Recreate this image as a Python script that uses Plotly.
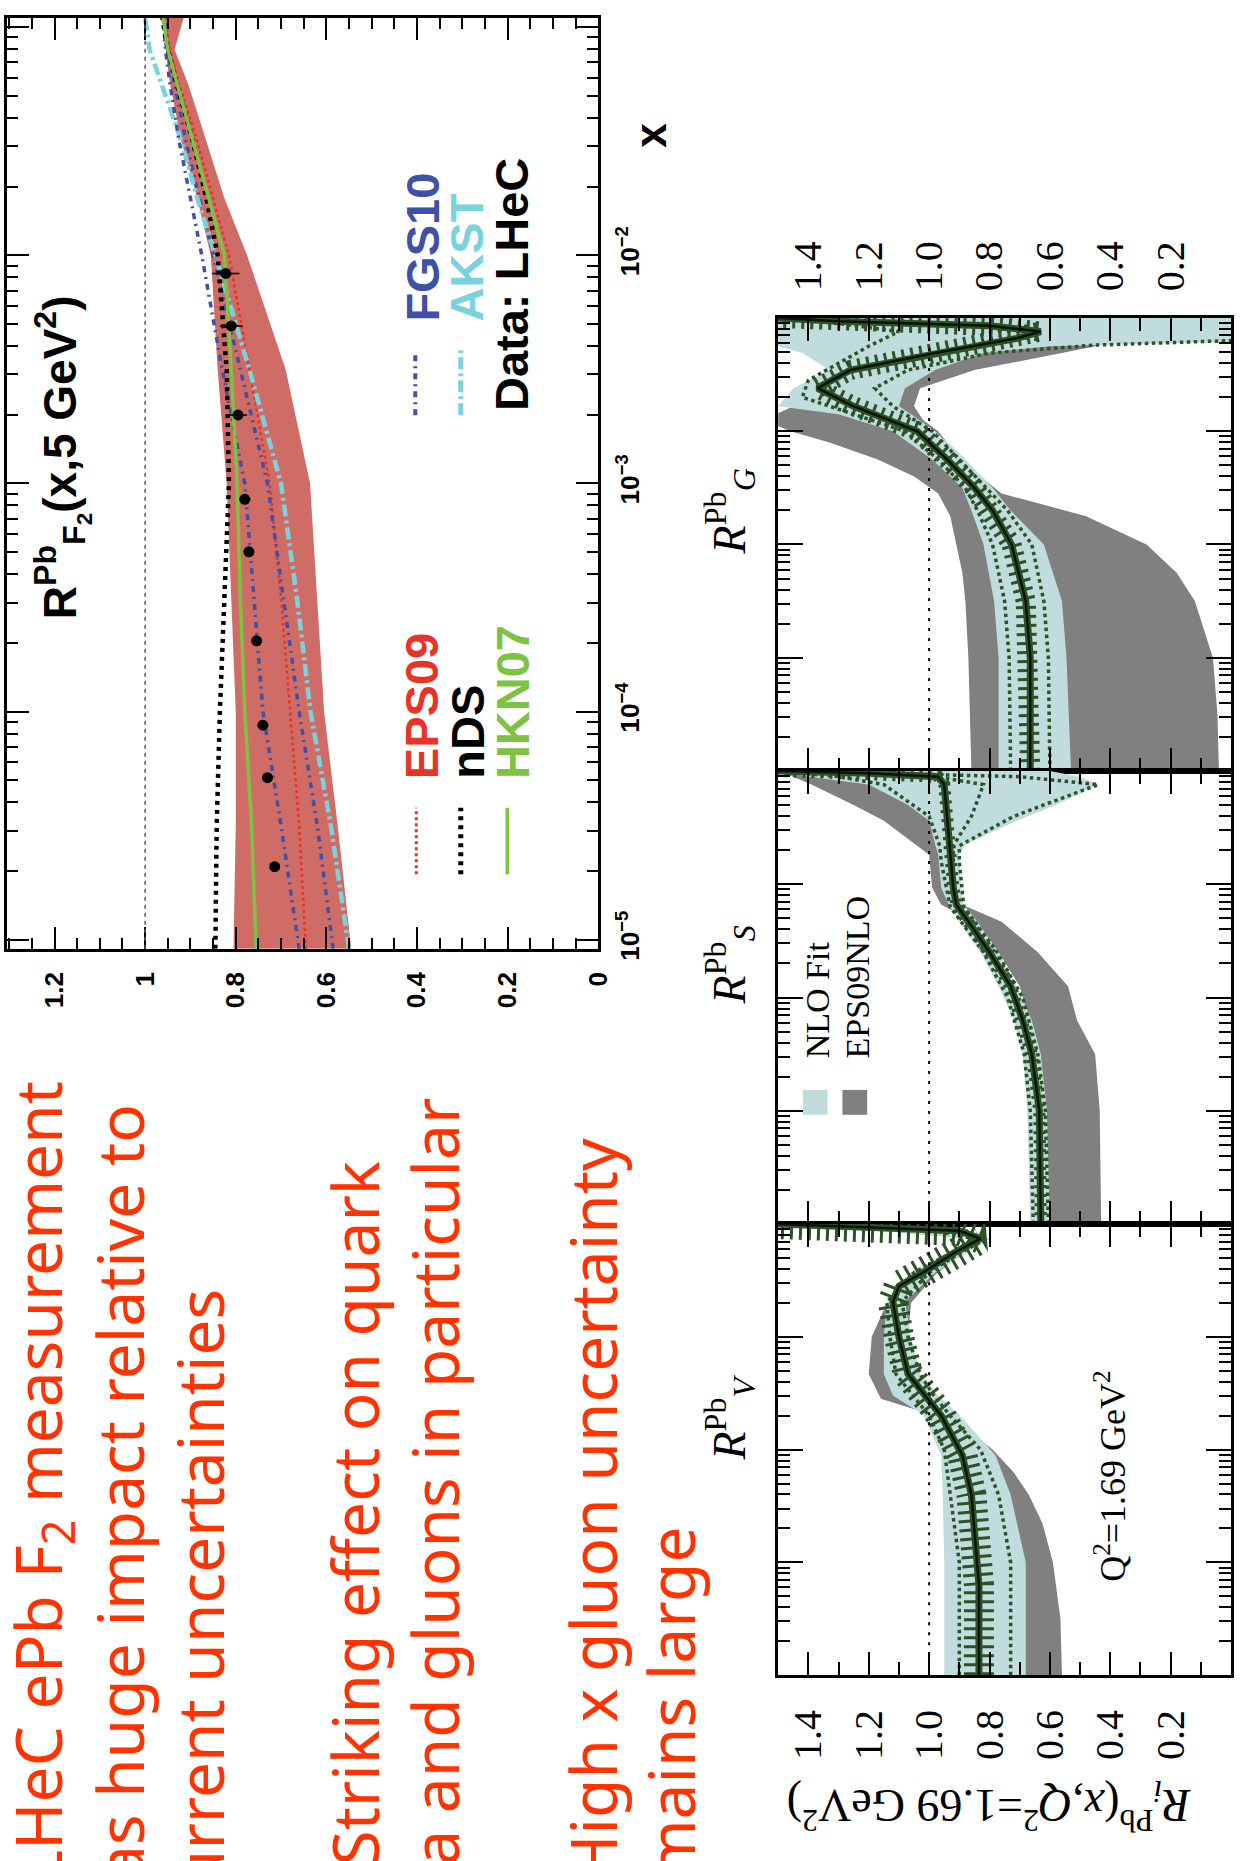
import plotly.graph_objects as go

W, H = 1248, 1861


def px(x):
    return x / W


def py(y):
    return 1 - y / H


# ---------------- top chart: R_F2^Pb(x, 5 GeV^2) ----------------
top_logx = [-5.04, -4.5, -4.0, -3.5, -3.0, -2.5, -2.0, -1.75, -1.5, -1.25, -1.1, -0.96]
eps09_hi = [0.805, 0.80, 0.80, 0.81, 0.82, 0.84, 0.855, 0.885, 0.92, 0.945, 0.955, 0.96]
eps09_lo = [0.545, 0.575, 0.605, 0.62, 0.636, 0.69, 0.775, 0.825, 0.865, 0.905, 0.935, 0.915]
eps09_c = [0.645, 0.66, 0.68, 0.70, 0.725, 0.77, 0.815, 0.85, 0.885, 0.925, 0.945, 0.955]
nds = [0.845, 0.842, 0.835, 0.825, 0.815, 0.82, 0.84, 0.865, 0.895, 0.93, 0.95, 0.962]
hkn07 = [0.755, 0.765, 0.78, 0.79, 0.797, 0.81, 0.825, 0.86, 0.895, 0.93, 0.95, 0.96]
fgs10_a = [0.66, 0.70, 0.74, 0.76, 0.78, 0.83, 0.875, 0.90, 0.925, 0.945, 0.955, 0.96]
fgs10_b = [0.585, 0.62, 0.66, 0.695, 0.73, 0.79, 0.85, 0.88, 0.91, 0.935, 0.95, 0.955]
akst = [0.55, 0.59, 0.635, 0.665, 0.70, 0.77, 0.845, 0.885, 0.92, 0.965, 0.99, 1.0]

data_logx = [-2.08, -2.31, -2.70, -3.07, -3.30, -3.69, -4.06, -4.29, -4.68]
data_r = [0.822, 0.81, 0.795, 0.78, 0.771, 0.754, 0.74, 0.73, 0.714]
data_err = [0.03, 0.025, 0.02, 0.012, 0.01, 0.006, 0.006, 0.005, 0.005]

# ---------------- bottom panels (Q^2 = 1.69 GeV^2) ----------------
# R_G
g_eps_logx = [-4, -3.5, -3, -2.5, -2.25, -2, -1.75, -1.55, -1.4, -1.25, -1.1, -1.0, -0.9, -0.78, -0.62, -0.46, -0.31, -0.25, -0.18, -0.1, 0]
g_eps_hi = [0.86, 0.865, 0.87, 0.88, 0.89, 0.91, 0.93, 0.97, 1.05, 1.17, 1.33, 1.46, 1.55, 1.45, 1.25, 1.1, 1.0, 0.95, 0.9, 0.9, 0.9]
g_eps_lo = [0.04, 0.045, 0.06, 0.12, 0.18, 0.28, 0.48, 0.76, 0.83, 0.88, 0.94, 0.97, 1.02, 1.05, 1.03, 0.85, 0.56, 0.45, 0.35, 0.3, 0.3]
g_nlo_logx = [-4, -3, -2.5, -2, -1.7, -1.5, -1.25, -1.0, -0.85, -0.78, -0.62, -0.46, -0.31, -0.25, -0.21, -0.1, 0]
g_nlo_hi = [0.77, 0.77, 0.785, 0.82, 0.86, 0.89, 0.99, 1.12, 1.3, 1.5, 1.45, 1.33, 1.42, 1.5, 1.6, 1.6, 1.6]
g_nlo_lo = [0.53, 0.545, 0.56, 0.62, 0.73, 0.79, 0.88, 0.98, 1.06, 1.1, 1.08, 0.98, 0.82, 0.6, 0.0, 0.0, 0.0]
g_c_logx = [-4, -3, -2.5, -2, -1.7, -1.5, -1.25, -1.0, -0.78, -0.62, -0.46, -0.31, -0.18, -0.12, -0.07, -0.03, 0]
g_c = [0.665, 0.665, 0.68, 0.727, 0.79, 0.85, 0.94, 1.04, 1.25, 1.37, 1.26, 0.98, 0.71, 0.63, 0.8, 1.3, 1.5]
g_da_logx = [-4, -3, -2.5, -2, -1.7, -1.5, -1.25, -1.0, -0.78, -0.62, -0.46, -0.31, -0.24, -0.2]
g_da = [0.60, 0.605, 0.62, 0.66, 0.74, 0.81, 0.9, 0.99, 1.12, 1.18, 1.07, 0.8, 0.45, 0.0]
g_db_logx = [-4, -3, -2.5, -2, -1.7, -1.5, -1.25, -1.0, -0.85, -0.7, -0.55, -0.4, -0.25, -0.12, -0.05, 0]
g_db = [0.73, 0.735, 0.75, 0.79, 0.84, 0.88, 0.97, 1.08, 1.25, 1.42, 1.4, 1.3, 1.2, 1.1, 1.3, 1.5]

# R_S
s_eps_logx = [-4, -3, -2.5, -2.2, -1.9, -1.6, -1.33, -1.18, -1.03, -0.74, -0.44, -0.3, -0.12, -0.05, 0]
s_eps_hi = [0.62, 0.63, 0.65, 0.67, 0.70, 0.77, 0.85, 0.96, 0.99, 1.0, 1.15, 1.25, 1.39, 1.45, 1.5]
s_eps_lo = [0.43, 0.435, 0.45, 0.51, 0.54, 0.64, 0.76, 0.89, 0.91, 0.92, 0.92, 0.95, 1.0, 1.1, 1.2]
s_nlo_logx = [-4, -3, -2.5, -2.2, -1.9, -1.6, -1.33, -1.18, -1.03, -0.74, -0.65, -0.44, -0.3, -0.12, -0.05, 0]
s_nlo_hi = [0.665, 0.675, 0.69, 0.72, 0.77, 0.83, 0.90, 0.935, 0.96, 0.97, 0.98, 1.0, 1.07, 1.2, 1.4, 1.5]
s_nlo_lo = [0.60, 0.61, 0.63, 0.66, 0.71, 0.77, 0.84, 0.885, 0.895, 0.90, 0.88, 0.71, 0.58, 0.44, 0.5, 0.6]
s_c_logx = [-4, -3, -2.5, -2.2, -1.9, -1.6, -1.33, -1.18, -1.03, -0.74, -0.44, -0.12, -0.05, -0.02, 0]
s_c = [0.63, 0.635, 0.66, 0.69, 0.73, 0.80, 0.87, 0.91, 0.92, 0.93, 0.94, 0.95, 0.97, 1.2, 1.5]
s_d_logx = [-4, -3, -2.5, -2, -1.6, -1.2, -0.8, -0.66, -0.4, -0.12, -0.05, 0]
s_da = [0.605, 0.615, 0.64, 0.69, 0.775, 0.885, 0.9, 0.9, 0.72, 0.44, 0.7, 1.5]
s_db = [0.655, 0.665, 0.685, 0.74, 0.82, 0.93, 0.96, 0.965, 1.0, 1.15, 1.3, 1.5]
s_dc_logx = [-0.8, -0.66, -0.4, -0.12, -0.04, 0]
s_dc = [0.92, 0.92, 0.86, 0.82, 1.0, 1.5]

# R_V
v_eps_logx = [-4, -3.5, -3, -2.65, -2.4, -2.2, -2.0, -1.85, -1.7, -1.55, -1.33, -1.0, -0.7, -0.45, -0.26, -0.13, -0.05, 0]
v_eps_hi = [0.70, 0.70, 0.70, 0.72, 0.74, 0.78, 0.84, 0.9, 0.98, 1.16, 1.2, 1.19, 1.14, 1.04, 0.93, 0.86, 1.2, 1.5]
v_eps_lo = [0.56, 0.565, 0.59, 0.625, 0.67, 0.72, 0.79, 0.86, 0.93, 1.0, 1.04, 1.07, 1.06, 0.98, 0.89, 0.8, 0.95, 1.4]
v_nlo_logx = [-4, -3, -2.4, -2.05, -1.69, -1.52, -1.33, -1.0, -0.69, -0.43, -0.26, -0.13, -0.05, 0]
v_nlo_hi = [0.95, 0.95, 0.955, 0.96, 1.02, 1.12, 1.15, 1.15, 1.14, 1.06, 0.94, 0.86, 1.2, 1.5]
v_nlo_lo = [0.68, 0.68, 0.73, 0.78, 0.90, 0.97, 1.03, 1.06, 1.08, 0.98, 0.88, 0.80, 0.9, 1.4]
v_c_logx = [-4, -3.2, -2.4, -2.05, -1.7, -1.33, -1.0, -0.69, -0.55, -0.43, -0.26, -0.13, -0.06, -0.02, 0]
v_c = [0.835, 0.835, 0.86, 0.89, 0.96, 1.07, 1.10, 1.12, 1.10, 1.02, 0.92, 0.83, 0.9, 1.3, 1.5]
v_d_logx = [-4, -3, -2.4, -2, -1.7, -1.5, -1.33, -1.0, -0.69, -0.43, -0.26, -0.13, -0.05, 0]
v_da = [0.73, 0.73, 0.77, 0.83, 0.93, 0.99, 1.03, 1.07, 1.09, 1.0, 0.9, 0.81, 0.9, 1.5]
v_db = [0.9, 0.9, 0.93, 0.95, 1.0, 1.06, 1.11, 1.13, 1.14, 1.05, 0.93, 0.85, 1.0, 1.5]

ratio_tick_vals = [0.2, 0.4, 0.6, 0.8, 1.0, 1.2, 1.4]
ratio_tick_text = ["0.2", "0.4", "0.6", "0.8", "1.0", "1.2", "1.4"]
ratio_minor_vals = [0.1, 0.3, 0.5, 0.7, 0.9, 1.1, 1.3]

bullet_lines = [
    "LHeC ePb F<sub>2</sub> measurement",
    "has huge impact relative to",
    "current uncertainties",
    "Striking effect on quark",
    "sea and gluons in particular",
    "High x gluon uncertainty",
    "remains large",
]

# ---------------- styles ----------------
C_EPS_BAND = "rgb(208,108,102)"
C_EPS = "rgb(232,52,40)"
C_HKN = "rgb(125,194,66)"
C_FGS = "rgb(62,80,168)"
C_AKST = "rgb(122,210,220)"
C_GRAY = "rgb(128,128,128)"
C_LBLUE = "rgb(192,220,220)"
C_DGREEN = "rgb(45,82,40)"
C_RED_TXT = "rgb(255,51,0)"


def X(logs):
    return [10 ** v for v in logs]


fig = go.Figure()


def band(lx, hi, lo, color, xa, ya):
    fig.add_trace(go.Scatter(
        x=list(hi) + list(lo)[::-1], y=X(lx) + X(lx)[::-1],
        fill="toself", fillcolor=color, mode="lines", line=dict(width=0, color=color),
        xaxis=xa, yaxis=ya, hoverinfo="skip", showlegend=False))


def curve(lx, vals, color, width, dash, xa, ya):
    fig.add_trace(go.Scatter(
        x=vals, y=X(lx), mode="lines", line=dict(color=color, width=width, dash=dash),
        xaxis=xa, yaxis=ya, hoverinfo="skip", showlegend=False))


# top chart traces
band(top_logx, eps09_hi, eps09_lo, C_EPS_BAND, "x", "y")
curve(top_logx, eps09_c, C_EPS, 2.5, "dot", "x", "y")
curve(top_logx, fgs10_b, C_FGS, 3.5, "6px,5px,2px,5px", "x", "y")
curve(top_logx, akst, C_AKST, 4.5, "12px,4px,3px,4px", "x", "y")
curve(top_logx, fgs10_a, C_FGS, 3.5, "6px,5px,2px,5px", "x", "y")
curve(top_logx, nds, "black", 4.5, "4px,5px", "x", "y")
curve(top_logx, hkn07, C_HKN, 3.5, "solid", "x", "y")
fig.add_trace(go.Scatter(
    x=data_r, y=X(data_logx), mode="markers",
    marker=dict(color="black", size=11, symbol="circle"),
    error_x=dict(type="data", array=data_err, color="black", thickness=1.5, width=0),
    xaxis="x", yaxis="y", showlegend=False, hoverinfo="skip"))

# bottom panels
panels = [
    ("x2", "y2", g_eps_logx, g_eps_hi, g_eps_lo, g_nlo_logx, g_nlo_hi, g_nlo_lo,
     g_c_logx, g_c, [(g_da_logx, g_da), (g_db_logx, g_db)], 20),
    ("x3", "y3", s_eps_logx, s_eps_hi, s_eps_lo, s_nlo_logx, s_nlo_hi, s_nlo_lo,
     s_c_logx, s_c, [(s_d_logx, s_da), (s_d_logx, s_db), (s_dc_logx, s_dc)], 12),
    ("x4", "y4", v_eps_logx, v_eps_hi, v_eps_lo, v_nlo_logx, v_nlo_hi, v_nlo_lo,
     v_c_logx, v_c, [(v_d_logx, v_da), (v_d_logx, v_db)], 30),
]
for xa, ya, elx, ehi, elo, nlx, nhi, nlo, clx, cv, dots, hw in panels:
    band(elx, ehi, elo, C_GRAY, xa, ya)
    band(nlx, nhi, nlo, C_LBLUE, xa, ya)
    for dlx, dv in dots:
        curve(dlx, dv, C_DGREEN, 3.5, "dot", xa, ya)
    curve(clx, cv, C_DGREEN, hw, "3px,6px", xa, ya)
    curve(clx, cv, C_DGREEN, 7, "solid", xa, ya)
    curve(clx, cv, "rgb(10,20,10)", 2.5, "solid", xa, ya)

# ---------------- axes ----------------
common = dict(showline=True, linecolor="black", linewidth=2.5, mirror="allticks",
              ticks="inside", tickcolor="black", showgrid=False, zeroline=False)

layout = dict(
    width=W, height=H, margin=dict(l=0, r=0, t=0, b=0), autosize=False,
    paper_bgcolor="white", plot_bgcolor="white", showlegend=False,
    xaxis=dict(domain=[px(7), px(605)], anchor="y", range=[1.305, 0], side="bottom",
               tickmode="linear", dtick=0.2, tick0=0, ticklen=22, tickwidth=2,
               minor=dict(dtick=0.05, tick0=0, ticks="inside", ticklen=11, tickwidth=1.5, tickcolor="black"),
               tickangle=-90, ticklabelstandoff=10,
               tickfont=dict(family="Liberation Sans", size=26, color="black", weight="bold"), **common),
    yaxis=dict(domain=[py(955), py(18)], anchor="x", type="log", range=[-5.04, -0.96], side="right",
               dtick=1, exponentformat="power", ticklen=22, tickwidth=2,
               minor=dict(dtick="D1", ticks="inside", ticklen=11, tickwidth=1.5, tickcolor="black"),
               tickangle=-90, ticklabelstandoff=8,
               tickfont=dict(family="Liberation Sans", size=21, color="black", weight="bold"), **common),
)

panel_rows = [("2", 320, 776, "top", True), ("3", 776, 1232, "bottom", False), ("4", 1232, 1686, "bottom", True)]
for n, top, bot, side, show in panel_rows:
    layout["xaxis" + n] = dict(
        domain=[px(787), px(1245)], anchor="y" + n, range=[1.5, 0], side=side,
        tickmode="array", tickvals=ratio_tick_vals, ticktext=ratio_tick_text,
        ticklen=23, tickwidth=2,
        minor=dict(tickmode="array", tickvals=ratio_minor_vals, ticks="inside", ticklen=13,
                   tickwidth=2, tickcolor="black"),
        showticklabels=show, tickangle=-90, ticklabelstandoff=16,
        tickfont=dict(family="Liberation Serif", size=40, color="black"), **common)
    layout["yaxis" + n] = dict(
        domain=[py(bot), py(top)], anchor="x" + n, type="log", range=[-4, 0], dtick=1,
        showticklabels=False, ticklen=25, tickwidth=2,
        minor=dict(dtick="D1", ticks="inside", ticklen=12, tickwidth=1.5, tickcolor="black"),
        **common)

fig.update_layout(**layout)

# reference lines at ratio = 1
fig.add_shape(type="line", xref="x", yref="y domain", x0=1, x1=1, y0=0, y1=1,
              line=dict(color="rgb(90,90,90)", width=1.5, dash="4px,4px"))
for n in ["2", "3", "4"]:
    fig.add_shape(type="line", xref="x" + n, yref="y" + n + " domain", x0=1, x1=1, y0=0, y1=1,
                  line=dict(color="black", width=2, dash="3px,7px"))

# ---------------- annotations ----------------
anns = []


def ann(text, x, y, size, family, color="black", angle=-90, xanchor="center", yanchor="middle"):
    anns.append(dict(text=text, x=px(x), y=py(y), xref="paper", yref="paper", showarrow=False,
                     textangle=angle, xanchor=xanchor, yanchor=yanchor,
                     font=dict(size=size, family=family, color=color)))


SANS = "Liberation Sans"
SERIF = "Liberation Serif"

# top chart texts
ann("<b>R<sup>Pb</sup><sub>F<sub>2</sub></sub>(x,5 GeV<sup>2</sup>)</b>", 63, 460, 46, SANS)
ann("<b>x</b>", 658, 136, 44, SANS)
ann("<b>EPS09</b>", 427, 786, 47, SANS, C_EPS, yanchor="bottom")
ann("<b>nDS</b>", 473, 786, 47, SANS, "black", yanchor="bottom")
ann("<b>HKN07</b>", 519, 786, 47, SANS, C_HKN, yanchor="bottom")
ann("<b>FGS10</b>", 427, 326, 47, SANS, C_FGS, yanchor="bottom")
ann("<b>AKST</b>", 472, 326, 47, SANS, C_AKST, yanchor="bottom")
ann("<b>Data: LHeC</b>", 518, 416, 47, SANS, "black", yanchor="bottom")

# bottom figure texts
ann("<i>R</i><sup>Pb</sup><sub><i>G</i></sub>", 738, 515, 46, SERIF)
ann("<i>R</i><sup>Pb</sup><sub><i>S</i></sub>", 738, 971, 46, SERIF)
ann("<i>R</i><sup>Pb</sup><sub><i>V</i></sub>", 738, 1427, 46, SERIF)
ann("<i>R</i><sub><i>i</i></sub><sup>Pb</sup>(<i>x</i>,<i>Q</i><sup>2</sup>=1.69 GeV<sup>2</sup>)",
    1000, 1818, 46, SERIF, angle=180)
ann("Q<sup>2</sup>=1.69 GeV<sup>2</sup>", 1123, 1486, 36, SERIF)
ann("NLO Fit", 827, 1067, 34, SERIF, yanchor="bottom")
ann("EPS09NLO", 867, 1067, 34, SERIF, yanchor="bottom")

# slide bullet text (rotated)
line_x = [41, 121, 201, 359, 439, 599, 678]
line_end = [1087, 1110, 1295, 1167, 1103, 1143, 1534]
for t, lx, le in zip(bullet_lines, line_x, line_end):
    ann(t, lx, le, 64, "Noto Sans", C_RED_TXT, yanchor="top")

fig.update_layout(annotations=anns)

# legend swatches / samples (layout decorations)
shapes = []


def seg(x, y0, y1, color, width, dash):
    shapes.append(dict(type="line", xref="paper", yref="paper", x0=px(x), x1=px(x), y0=py(y0), y1=py(y1),
                       line=dict(color=color, width=width, dash=dash)))


seg(421, 880, 813, C_EPS, 3, "dot")
seg(466, 880, 813, "black", 5, "4px,5px")
seg(513, 880, 813, C_HKN, 3.5, "solid")
seg(420, 418, 353, C_FGS, 4, "6px,5px,2px,5px")
seg(466, 418, 349, C_AKST, 5, "12px,4px,3px,4px")
shapes.append(dict(type="rect", xref="paper", yref="paper", x0=px(812), x1=px(837), y0=py(1122), y1=py(1097),
                   fillcolor=C_LBLUE, line=dict(width=0)))
shapes.append(dict(type="rect", xref="paper", yref="paper", x0=px(852), x1=px(877), y0=py(1122), y1=py(1097),
                   fillcolor=C_GRAY, line=dict(width=0)))
for s in shapes:
    fig.add_shape(**s)

fig.write_html("out.html", config={"displayModeBar": False},
               post_script="document.body.style.margin='0';document.body.style.overflow='hidden';")
